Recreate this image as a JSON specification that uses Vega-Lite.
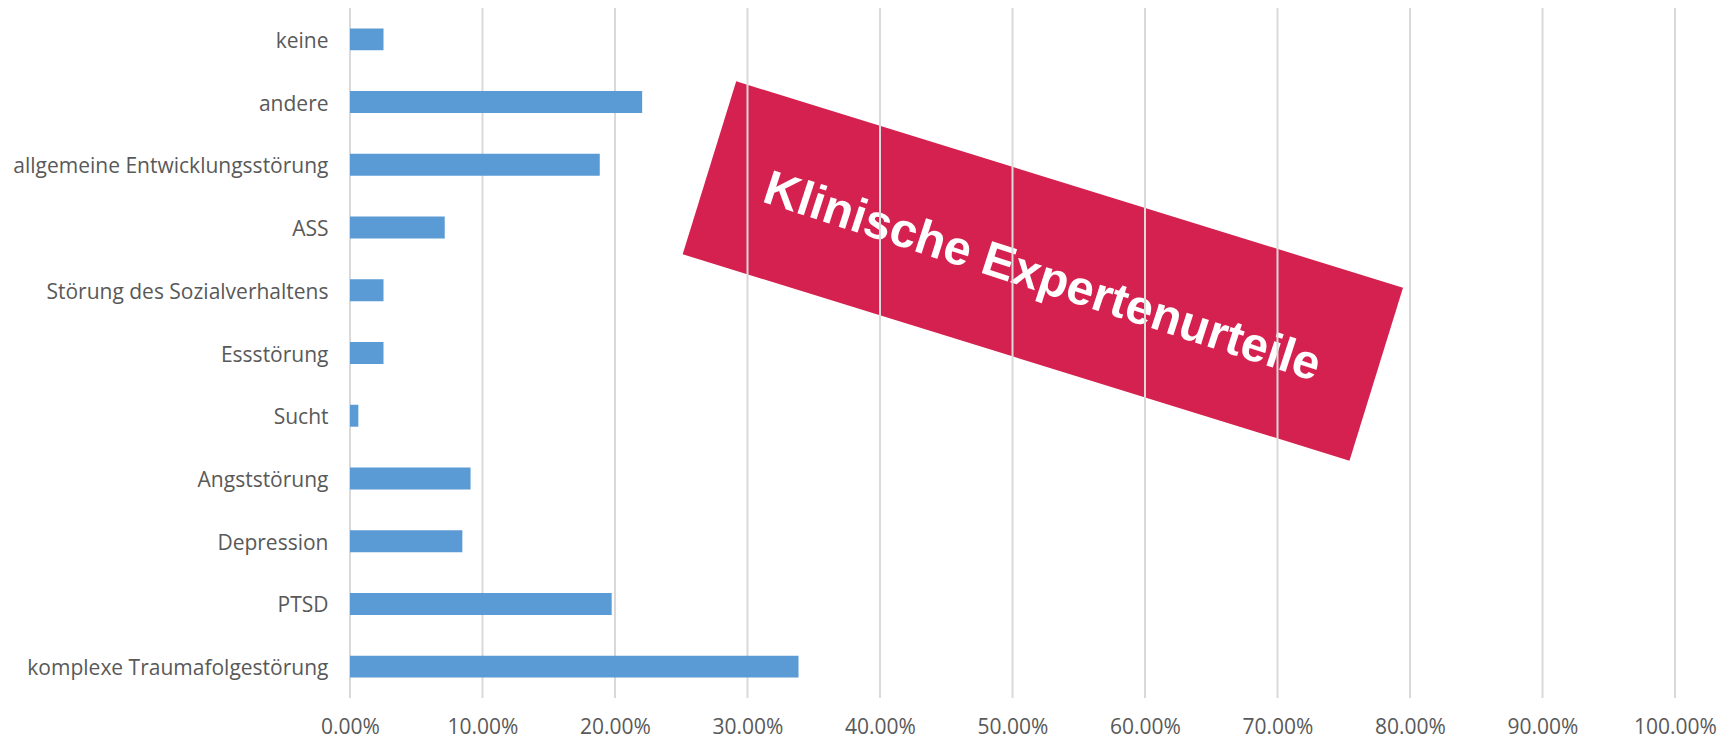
{
  "$schema": "https://vega.github.io/schema/vega-lite/v6.json",
  "autosize": "none",
  "width": 1325,
  "height": 690,
  "padding": {"left": 350, "top": 8, "right": 48, "bottom": 43},
  "background": "white",
  "config": {"view": {"stroke": null}},
  "datasets": {
    "diagnosen": [
      {"Diagnose": "keine", "Anteil": 0.0253},
      {"Diagnose": "andere", "Anteil": 0.2205},
      {"Diagnose": "allgemeine Entwicklungsstörung", "Anteil": 0.1885},
      {"Diagnose": "ASS", "Anteil": 0.0715},
      {"Diagnose": "Störung des Sozialverhaltens", "Anteil": 0.0253},
      {"Diagnose": "Essstörung", "Anteil": 0.0253},
      {"Diagnose": "Sucht", "Anteil": 0.0063},
      {"Diagnose": "Angststörung", "Anteil": 0.091},
      {"Diagnose": "Depression", "Anteil": 0.0848},
      {"Diagnose": "PTSD", "Anteil": 0.1975},
      {"Diagnose": "komplexe Traumafolgestörung", "Anteil": 0.3385}
    ],
    "raster": [
      {"Wert": 0}, {"Wert": 0.1}, {"Wert": 0.2}, {"Wert": 0.3}, {"Wert": 0.4},
      {"Wert": 0.5}, {"Wert": 0.6}, {"Wert": 0.7}, {"Wert": 0.8}, {"Wert": 0.9}, {"Wert": 1}
    ],
    "stempel": [
      {"Text": "Klinische Expertenurteile"}
    ]
  },
  "layer": [
    {
      "data": {"name": "stempel"},
      "mark": {
        "type": "point",
        "shape": "M-1,-0.2593L1,-0.2593L1,0.2593L-1,0.2593Z",
        "size": 487204,
        "angle": 17.2,
        "filled": true,
        "color": "#d5214f",
        "opacity": 1,
        "strokeWidth": 0
      },
      "encoding": {
        "x": {"datum": 0.5229, "type": "quantitative"},
        "y": {"datum": 427, "type": "quantitative", "scale": {"domain": [0, 690]}, "axis": null}
      }
    },
    {
      "data": {"name": "stempel"},
      "mark": {
        "type": "text",
        "angle": 18,
        "align": "center",
        "baseline": "middle",
        "font": "Liberation Sans",
        "fontWeight": "bold",
        "fontSize": 48.5,
        "color": "white"
      },
      "encoding": {
        "x": {"datum": 0.5225, "type": "quantitative"},
        "y": {"datum": 421, "type": "quantitative", "scale": {"domain": [0, 690]}, "axis": null},
        "text": {"field": "Text"}
      }
    },
    {
      "data": {"name": "raster"},
      "mark": {"type": "rule", "color": "#d9d9d9", "strokeWidth": 2},
      "encoding": {
        "x": {"field": "Wert", "type": "quantitative"}
      }
    },
    {
      "data": {"name": "diagnosen"},
      "mark": {"type": "bar", "color": "#5b9bd5"},
      "encoding": {
        "y": {
          "field": "Diagnose",
          "type": "nominal",
          "sort": ["keine", "andere", "allgemeine Entwicklungsstörung", "ASS", "Störung des Sozialverhaltens", "Essstörung", "Sucht", "Angststörung", "Depression", "PTSD", "komplexe Traumafolgestörung"],
          "scale": {"paddingInner": 0.65, "paddingOuter": 0.325},
          "axis": {
            "title": null,
            "domain": false,
            "ticks": false,
            "labelPadding": 22,
            "labelOffset": 2.5,
            "labelFont": "Open Sans",
            "labelFontSize": 21,
            "labelColor": "#595959",
            "labelLimit": 400
          }
        },
        "x": {
          "field": "Anteil",
          "type": "quantitative",
          "scale": {"domain": [0, 1], "nice": false},
          "axis": {
            "title": null,
            "format": ".2%",
            "values": [0, 0.1, 0.2, 0.3, 0.4, 0.5, 0.6, 0.7, 0.8, 0.9, 1],
            "grid": false,
            "domain": false,
            "ticks": false,
            "labelPadding": 18,
            "labelFont": "Open Sans",
            "labelFontSize": 21,
            "labelColor": "#595959",
            "labelFlush": false
          }
        }
      }
    }
  ],
  "resolve": {"scale": {"y": "independent"}, "axis": {"y": "independent"}}
}
